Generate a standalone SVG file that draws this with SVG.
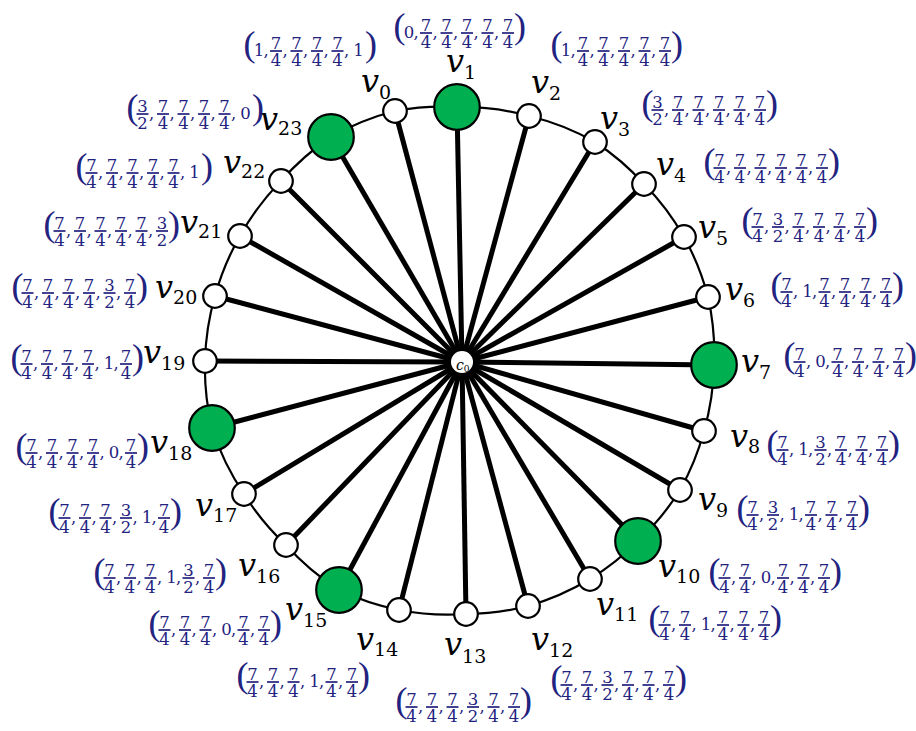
<svg xmlns="http://www.w3.org/2000/svg" xmlns:xlink="http://www.w3.org/1999/xlink" width="916" height="731" viewBox="0 0 916 731">
<style>
  .spoke { stroke: #000; stroke-width: 5; stroke-linecap: butt; }
  .rim { fill: none; stroke: #000; stroke-width: 2.2; }
  .nw { fill: #fff; stroke: #000; stroke-width: 2.2; }
  .ng { fill: #00b050; stroke: #000; stroke-width: 2.2; }
  .lb { font-family: "DejaVu Serif", serif; font-style: italic; font-size: 32px; fill: #000; }
  .sb { font-style: normal; font-size: 19px; }
  .tp { font-family: "DejaVu Serif", serif; font-size: 16.5px; fill: #22227f; }
  .tp .pr { font-family: "Liberation Serif", serif; font-size: 36px; }
  .tp .n { text-anchor: middle; }
</style>
<defs>
  <!-- stacked fractions, centred on x=0 with the bar on y=0 -->
  <g id="q74" text-anchor="middle"><text y="-2.5">7</text><line x1="-6" y1="0" x2="6" y2="0" stroke="#22227f" stroke-width="1.7"/><text y="14.5">4</text></g>
  <g id="q32" text-anchor="middle"><text y="-2.5">3</text><line x1="-6" y1="0" x2="6" y2="0" stroke="#22227f" stroke-width="1.7"/><text y="14.5">2</text></g>
</defs>
<rect width="916" height="731" fill="#fff"/>

<!-- connectors: spokes from the hub and the rim cycle -->
<g id="edges">
  <line class="spoke" x1="462" y1="362" x2="395" y2="111"/>
  <line class="spoke" x1="462" y1="362" x2="457" y2="107"/>
  <line class="spoke" x1="462" y1="362" x2="529" y2="116"/>
  <line class="spoke" x1="462" y1="362" x2="595" y2="142"/>
  <line class="spoke" x1="462" y1="362" x2="644" y2="184"/>
  <line class="spoke" x1="462" y1="362" x2="684" y2="237"/>
  <line class="spoke" x1="462" y1="362" x2="708" y2="297"/>
  <line class="spoke" x1="462" y1="362" x2="714" y2="365"/>
  <line class="spoke" x1="462" y1="362" x2="704" y2="431"/>
  <line class="spoke" x1="462" y1="362" x2="680" y2="490"/>
  <line class="spoke" x1="462" y1="362" x2="638" y2="541"/>
  <line class="spoke" x1="462" y1="362" x2="590" y2="579"/>
  <line class="spoke" x1="462" y1="362" x2="528" y2="606"/>
  <line class="spoke" x1="462" y1="362" x2="466" y2="614"/>
  <line class="spoke" x1="462" y1="362" x2="399" y2="610"/>
  <line class="spoke" x1="462" y1="362" x2="339" y2="590"/>
  <line class="spoke" x1="462" y1="362" x2="286" y2="545"/>
  <line class="spoke" x1="462" y1="362" x2="244" y2="494"/>
  <line class="spoke" x1="462" y1="362" x2="212" y2="428"/>
  <line class="spoke" x1="462" y1="362" x2="205" y2="361"/>
  <line class="spoke" x1="462" y1="362" x2="215" y2="296"/>
  <line class="spoke" x1="462" y1="362" x2="240" y2="236"/>
  <line class="spoke" x1="462" y1="362" x2="281" y2="181"/>
  <line class="spoke" x1="462" y1="362" x2="331" y2="137"/>
  <path class="rim" d="M395,111 A255,255 0 0 1 457,107 A255,255 0 0 1 529,116 A255,255 0 0 1 595,142 A255,255 0 0 1 644,184 A255,255 0 0 1 684,237 A255,255 0 0 1 708,297 A255,255 0 0 1 714,365 A255,255 0 0 1 704,431 A255,255 0 0 1 680,490 A255,255 0 0 1 638,541 A255,255 0 0 1 590,579 A255,255 0 0 1 528,606 A255,255 0 0 1 466,614 A255,255 0 0 1 399,610 A255,255 0 0 1 339,590 A255,255 0 0 1 286,545 A255,255 0 0 1 244,494 A255,255 0 0 1 212,428 A255,255 0 0 1 205,361 A255,255 0 0 1 215,296 A255,255 0 0 1 240,236 A255,255 0 0 1 281,181 A255,255 0 0 1 331,137 A255,255 0 0 1 395,111 Z"/>
</g>

<!-- hub -->
<g id="c0">
  <circle cx="462" cy="362" r="11" fill="#fff"/>
  <text x="456" y="370" font-family="DejaVu Serif, serif" font-style="italic" font-size="14">c<tspan font-style="normal" font-size="9" dy="2">0</tspan></text>
</g>

<!-- rim vertices -->
<g id="v0"><circle class="nw" cx="395" cy="111" r="11.8"/><text class="lb" x="361" y="92">v<tspan class="sb" dy="7">0</tspan></text></g>
<g id="v1"><circle class="ng" cx="457" cy="107" r="22.8"/><text class="lb" x="446" y="72">v<tspan class="sb" dy="7">1</tspan></text></g>
<g id="v2"><circle class="nw" cx="529" cy="116" r="11.8"/><text class="lb" x="531" y="93">v<tspan class="sb" dy="7">2</tspan></text></g>
<g id="v3"><circle class="nw" cx="595" cy="142" r="11.8"/><text class="lb" x="600" y="129">v<tspan class="sb" dy="7">3</tspan></text></g>
<g id="v4"><circle class="nw" cx="644" cy="184" r="11.8"/><text class="lb" x="656" y="175">v<tspan class="sb" dy="7">4</tspan></text></g>
<g id="v5"><circle class="nw" cx="684" cy="237" r="11.8"/><text class="lb" x="698" y="238">v<tspan class="sb" dy="7">5</tspan></text></g>
<g id="v6"><circle class="nw" cx="708" cy="297" r="11.8"/><text class="lb" x="725" y="300">v<tspan class="sb" dy="7">6</tspan></text></g>
<g id="v7"><circle class="ng" cx="714" cy="365" r="22.8"/><text class="lb" x="741" y="372">v<tspan class="sb" dy="7">7</tspan></text></g>
<g id="v8"><circle class="nw" cx="704" cy="431" r="11.8"/><text class="lb" x="730" y="447">v<tspan class="sb" dy="6">8</tspan></text></g>
<g id="v9"><circle class="nw" cx="680" cy="490" r="11.8"/><text class="lb" x="698" y="510">v<tspan class="sb" dy="7">9</tspan></text></g>
<g id="v10"><circle class="ng" cx="638" cy="541" r="22.8"/><text class="lb" x="658" y="577">v<tspan class="sb" dy="6">10</tspan></text></g>
<g id="v11"><circle class="nw" cx="590" cy="579" r="11.8"/><text class="lb" x="596" y="615">v<tspan class="sb" dy="6">11</tspan></text></g>
<g id="v12"><circle class="nw" cx="528" cy="606" r="11.8"/><text class="lb" x="531" y="650">v<tspan class="sb" dy="7">12</tspan></text></g>
<g id="v13"><circle class="nw" cx="466" cy="614" r="11.8"/><text class="lb" x="444" y="655">v<tspan class="sb" dy="8">13</tspan></text></g>
<g id="v14"><circle class="nw" cx="399" cy="610" r="11.8"/><text class="lb" x="356" y="650">v<tspan class="sb" dy="6">14</tspan></text></g>
<g id="v15"><circle class="ng" cx="339" cy="590" r="22.8"/><text class="lb" x="285" y="620">v<tspan class="sb" dy="7">15</tspan></text></g>
<g id="v16"><circle class="nw" cx="286" cy="545" r="11.8"/><text class="lb" x="238" y="576">v<tspan class="sb" dy="7">16</tspan></text></g>
<g id="v17"><circle class="nw" cx="244" cy="494" r="11.8"/><text class="lb" x="195" y="516">v<tspan class="sb" dy="6">17</tspan></text></g>
<g id="v18"><circle class="ng" cx="212" cy="428" r="22.8"/><text class="lb" x="150" y="453">v<tspan class="sb" dy="7">18</tspan></text></g>
<g id="v19"><circle class="nw" cx="205" cy="361" r="11.8"/><text class="lb" x="143" y="363">v<tspan class="sb" dy="7">19</tspan></text></g>
<g id="v20"><circle class="nw" cx="215" cy="296" r="11.8"/><text class="lb" x="155" y="298">v<tspan class="sb" dy="6">20</tspan></text></g>
<g id="v21"><circle class="nw" cx="240" cy="236" r="11.8"/><text class="lb" x="180" y="233">v<tspan class="sb" dy="5">21</tspan></text></g>
<g id="v22"><circle class="nw" cx="281" cy="181" r="11.8"/><text class="lb" x="223" y="173">v<tspan class="sb" dy="5">22</tspan></text></g>
<g id="v23"><circle class="ng" cx="331" cy="137" r="22.8"/><text class="lb" x="260" y="130">v<tspan class="sb" dy="5">23</tspan></text></g>

<!-- coordinate tuples -->
<g id="t0" class="tp" transform="translate(245,51)">
  <text class="pr" x="-1.5" y="5">(</text>
  <text class="n" x="14" y="5">1</text>
  <use href="#q74" x="31"/><use href="#q74" x="51.5"/><use href="#q74" x="72"/><use href="#q74" x="92.5"/>
  <text class="n" x="113.5" y="5">1</text>
  <text x="18.5 37.5 58 78.5 99" y="5">,,,,,</text>
  <text class="pr" x="120" y="5">)</text>
</g>
<g id="t1" class="tp" transform="translate(395,33)">
  <text class="pr" x="-1.5" y="5">(</text>
  <text class="n" x="14" y="5">0</text>
  <use href="#q74" x="31"/><use href="#q74" x="51.5"/><use href="#q74" x="72"/><use href="#q74" x="92.5"/><use href="#q74" x="113"/>
  <text x="18.5 37.5 58 78.5 99" y="5">,,,,,</text>
  <text class="pr" x="119" y="5">)</text>
</g>
<g id="t2" class="tp" transform="translate(552,51)">
  <text class="pr" x="-1.5" y="5">(</text>
  <text class="n" x="14" y="5">1</text>
  <use href="#q74" x="31"/><use href="#q74" x="51.5"/><use href="#q74" x="72"/><use href="#q74" x="92.5"/><use href="#q74" x="113"/>
  <text x="18.5 37.5 58 78.5 99" y="5">,,,,,</text>
  <text class="pr" x="119" y="5">)</text>
</g>
<g id="t3" class="tp" transform="translate(643,110)">
  <text class="pr" x="-1.5" y="5">(</text>
  <use href="#q32" x="14.5"/><use href="#q74" x="35"/><use href="#q74" x="55.5"/><use href="#q74" x="76"/><use href="#q74" x="96.5"/><use href="#q74" x="117"/>
  <text x="21 41.5 62 82.5 103" y="5">,,,,,</text>
  <text class="pr" x="123" y="5">)</text>
</g>
<g id="t4" class="tp" transform="translate(705,168)">
  <text class="pr" x="-1.5" y="5">(</text>
  <use href="#q74" x="14.5"/><use href="#q74" x="35"/><use href="#q74" x="55.5"/><use href="#q74" x="76"/><use href="#q74" x="96.5"/><use href="#q74" x="117"/>
  <text x="21 41.5 62 82.5 103" y="5">,,,,,</text>
  <text class="pr" x="123" y="5">)</text>
</g>
<g id="t5" class="tp" transform="translate(743,227)">
  <text class="pr" x="-1.5" y="5">(</text>
  <use href="#q74" x="14.5"/><use href="#q32" x="35"/><use href="#q74" x="55.5"/><use href="#q74" x="76"/><use href="#q74" x="96.5"/><use href="#q74" x="117"/>
  <text x="21 41.5 62 82.5 103" y="5">,,,,,</text>
  <text class="pr" x="123" y="5">)</text>
</g>
<g id="t6" class="tp" transform="translate(772,292)">
  <text class="pr" x="-1.5" y="5">(</text>
  <use href="#q74" x="14.5"/>
  <text class="n" x="35.5" y="5">1</text>
  <use href="#q74" x="52.5"/><use href="#q74" x="73"/><use href="#q74" x="93.5"/><use href="#q74" x="114"/>
  <text x="21 40 59 79.5 100" y="5">,,,,,</text>
  <text class="pr" x="120" y="5">)</text>
</g>
<g id="t7" class="tp" transform="translate(785,362)">
  <text class="pr" x="-1.5" y="5">(</text>
  <use href="#q74" x="14.5"/>
  <text class="n" x="35.5" y="5">0</text>
  <use href="#q74" x="52.5"/><use href="#q74" x="73"/><use href="#q74" x="93.5"/><use href="#q74" x="114"/>
  <text x="21 40 59 79.5 100" y="5">,,,,,</text>
  <text class="pr" x="120" y="5">)</text>
</g>
<g id="t8" class="tp" transform="translate(768,450)">
  <text class="pr" x="-1.5" y="5">(</text>
  <use href="#q74" x="14.5"/>
  <text class="n" x="35.5" y="5">1</text>
  <use href="#q32" x="52.5"/><use href="#q74" x="73"/><use href="#q74" x="93.5"/><use href="#q74" x="114"/>
  <text x="21 40 59 79.5 100" y="5">,,,,,</text>
  <text class="pr" x="120" y="5">)</text>
</g>
<g id="t9" class="tp" transform="translate(738,515)">
  <text class="pr" x="-1.5" y="5">(</text>
  <use href="#q74" x="14.5"/><use href="#q32" x="35"/>
  <text class="n" x="56" y="5">1</text>
  <use href="#q74" x="73"/><use href="#q74" x="93.5"/><use href="#q74" x="114"/>
  <text x="21 41.5 60.5 79.5 100" y="5">,,,,,</text>
  <text class="pr" x="120" y="5">)</text>
</g>
<g id="t10" class="tp" transform="translate(710,578)">
  <text class="pr" x="-1.5" y="5">(</text>
  <use href="#q74" x="14.5"/><use href="#q74" x="35"/>
  <text class="n" x="56" y="5">0</text>
  <use href="#q74" x="73"/><use href="#q74" x="93.5"/><use href="#q74" x="114"/>
  <text x="21 41.5 60.5 79.5 100" y="5">,,,,,</text>
  <text class="pr" x="120" y="5">)</text>
</g>
<g id="t11" class="tp" transform="translate(650,625)">
  <text class="pr" x="-1.5" y="5">(</text>
  <use href="#q74" x="14.5"/><use href="#q74" x="35"/>
  <text class="n" x="56" y="5">1</text>
  <use href="#q74" x="73"/><use href="#q74" x="93.5"/><use href="#q74" x="114"/>
  <text x="21 41.5 60.5 79.5 100" y="5">,,,,,</text>
  <text class="pr" x="120" y="5">)</text>
</g>
<g id="t12" class="tp" transform="translate(552,685)">
  <text class="pr" x="-1.5" y="5">(</text>
  <use href="#q74" x="14.5"/><use href="#q74" x="35"/><use href="#q32" x="55.5"/><use href="#q74" x="76"/><use href="#q74" x="96.5"/><use href="#q74" x="117"/>
  <text x="21 41.5 62 82.5 103" y="5">,,,,,</text>
  <text class="pr" x="123" y="5">)</text>
</g>
<g id="t13" class="tp" transform="translate(397,707)">
  <text class="pr" x="-1.5" y="5">(</text>
  <use href="#q74" x="14.5"/><use href="#q74" x="35"/><use href="#q74" x="55.5"/><use href="#q32" x="76"/><use href="#q74" x="96.5"/><use href="#q74" x="117"/>
  <text x="21 41.5 62 82.5 103" y="5">,,,,,</text>
  <text class="pr" x="123" y="5">)</text>
</g>
<g id="t14" class="tp" transform="translate(238,682)">
  <text class="pr" x="-1.5" y="5">(</text>
  <use href="#q74" x="14.5"/><use href="#q74" x="35"/><use href="#q74" x="55.5"/>
  <text class="n" x="76.5" y="5">1</text>
  <use href="#q74" x="93.5"/><use href="#q74" x="114"/>
  <text x="21 41.5 62 81 100" y="5">,,,,,</text>
  <text class="pr" x="120" y="5">)</text>
</g>
<g id="t15" class="tp" transform="translate(150,630)">
  <text class="pr" x="-1.5" y="5">(</text>
  <use href="#q74" x="14.5"/><use href="#q74" x="35"/><use href="#q74" x="55.5"/>
  <text class="n" x="76.5" y="5">0</text>
  <use href="#q74" x="93.5"/><use href="#q74" x="114"/>
  <text x="21 41.5 62 81 100" y="5">,,,,,</text>
  <text class="pr" x="120" y="5">)</text>
</g>
<g id="t16" class="tp" transform="translate(95,578)">
  <text class="pr" x="-1.5" y="5">(</text>
  <use href="#q74" x="14.5"/><use href="#q74" x="35"/><use href="#q74" x="55.5"/>
  <text class="n" x="76.5" y="5">1</text>
  <use href="#q32" x="93.5"/><use href="#q74" x="114"/>
  <text x="21 41.5 62 81 100" y="5">,,,,,</text>
  <text class="pr" x="120" y="5">)</text>
</g>
<g id="t17" class="tp" transform="translate(50,518)">
  <text class="pr" x="-1.5" y="5">(</text>
  <use href="#q74" x="14.5"/><use href="#q74" x="35"/><use href="#q74" x="55.5"/><use href="#q32" x="76"/>
  <text class="n" x="97" y="5">1</text>
  <use href="#q74" x="114"/>
  <text x="21 41.5 62 82.5 101.5" y="5">,,,,,</text>
  <text class="pr" x="120" y="5">)</text>
</g>
<g id="t18" class="tp" transform="translate(17,453)">
  <text class="pr" x="-1.5" y="5">(</text>
  <use href="#q74" x="14.5"/><use href="#q74" x="35"/><use href="#q74" x="55.5"/><use href="#q74" x="76"/>
  <text class="n" x="97" y="5">0</text>
  <use href="#q74" x="114"/>
  <text x="21 41.5 62 82.5 101.5" y="5">,,,,,</text>
  <text class="pr" x="120" y="5">)</text>
</g>
<g id="t19" class="tp" transform="translate(12,364)">
  <text class="pr" x="-1.5" y="5">(</text>
  <use href="#q74" x="14.5"/><use href="#q74" x="35"/><use href="#q74" x="55.5"/><use href="#q74" x="76"/>
  <text class="n" x="97" y="5">1</text>
  <use href="#q74" x="114"/>
  <text x="21 41.5 62 82.5 101.5" y="5">,,,,,</text>
  <text class="pr" x="120" y="5">)</text>
</g>
<g id="t20" class="tp" transform="translate(13,293)">
  <text class="pr" x="-1.5" y="5">(</text>
  <use href="#q74" x="14.5"/><use href="#q74" x="35"/><use href="#q74" x="55.5"/><use href="#q74" x="76"/><use href="#q32" x="96.5"/><use href="#q74" x="117"/>
  <text x="21 41.5 62 82.5 103" y="5">,,,,,</text>
  <text class="pr" x="123" y="5">)</text>
</g>
<g id="t21" class="tp" transform="translate(45,231)">
  <text class="pr" x="-1.5" y="5">(</text>
  <use href="#q74" x="14.5"/><use href="#q74" x="35"/><use href="#q74" x="55.5"/><use href="#q74" x="76"/><use href="#q74" x="96.5"/><use href="#q32" x="117"/>
  <text x="21 41.5 62 82.5 103" y="5">,,,,,</text>
  <text class="pr" x="123" y="5">)</text>
</g>
<g id="t22" class="tp" transform="translate(77,173)">
  <text class="pr" x="-1.5" y="5">(</text>
  <use href="#q74" x="14.5"/><use href="#q74" x="35"/><use href="#q74" x="55.5"/><use href="#q74" x="76"/><use href="#q74" x="96.5"/>
  <text class="n" x="117.5" y="5">1</text>
  <text x="21 41.5 62 82.5 103" y="5">,,,,,</text>
  <text class="pr" x="124" y="5">)</text>
</g>
<g id="t23" class="tp" transform="translate(128,114)">
  <text class="pr" x="-1.5" y="5">(</text>
  <use href="#q32" x="14.5"/><use href="#q74" x="35"/><use href="#q74" x="55.5"/><use href="#q74" x="76"/><use href="#q74" x="96.5"/>
  <text class="n" x="117.5" y="5">0</text>
  <text x="21 41.5 62 82.5 103" y="5">,,,,,</text>
  <text class="pr" x="124" y="5">)</text>
</g>
</svg>
